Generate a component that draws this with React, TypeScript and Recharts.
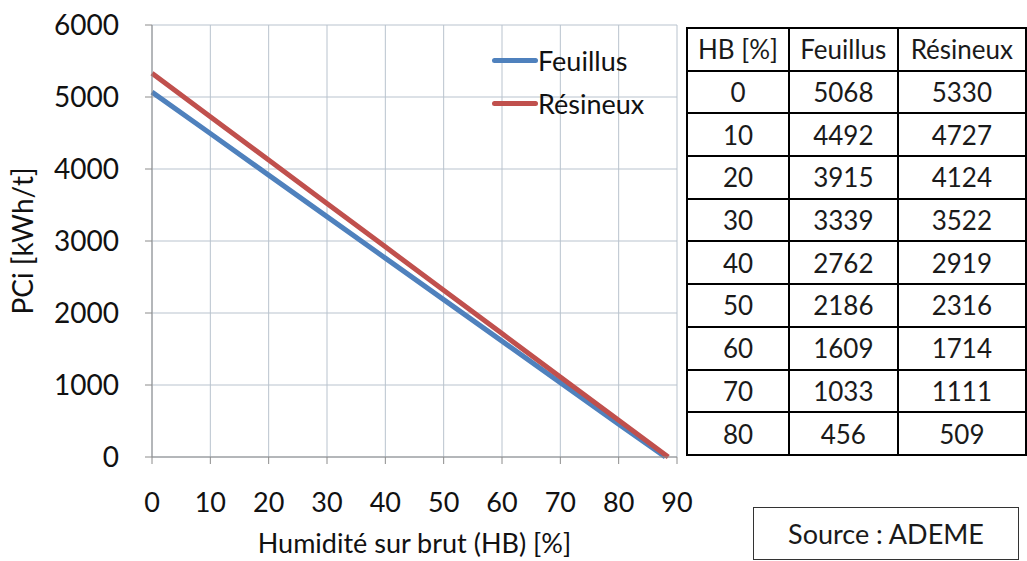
import React from "react";
import { CartesianGrid, Line, LineChart, XAxis, YAxis } from "recharts";

// values from the ADEME table
const hb = [0, 10, 20, 30, 40, 50, 60, 70, 80];
const feuillus = [5068, 4492, 3915, 3339, 2762, 2186, 1609, 1033, 456];
const resineux = [5330, 4727, 4124, 3522, 2919, 2316, 1714, 1111, 509];
// where each curve reaches zero
const feuillusEnd = { hb: 88, v: 0 };
const resineuxEnd = { hb: 88.5, v: 0 };

const xTicks = [0, 10, 20, 30, 40, 50, 60, 70, 80, 90];
const yTicks = [0, 1000, 2000, 3000, 4000, 5000, 6000];

const BLUE = "#4F81BD";
const RED = "#C0504D";
const FONT = "Lato, 'Open Sans', sans-serif";

const feuillusData = [...hb.map((h, i) => ({ hb: h, v: feuillus[i] })), feuillusEnd];
const resineuxData = [...hb.map((h, i) => ({ hb: h, v: resineux[i] })), resineuxEnd];

const series = [
  { name: "Feuillus", color: BLUE, data: feuillusData },
  { name: "Résineux", color: RED, data: resineuxData },
];

function LegendBox() {
  return (
    <div
      style={{
        position: "absolute",
        left: 492,
        top: 39,
        fontFamily: FONT,
        fontSize: 27,
        color: "#111",
      }}
    >
      {series.map((s) => (
        <div key={s.name} style={{ display: "flex", alignItems: "center", height: 43 }}>
          <span
            style={{
              display: "inline-block",
              width: 46,
              height: 5,
              borderRadius: 3,
              background: s.color,
            }}
          />
          <span>{s.name}</span>
        </div>
      ))}
    </div>
  );
}

function YLabel(props: any) {
  const vb = props.viewBox || {};
  const cx = 22;
  const cy = vb.y + vb.height / 2;
  return (
    <text
      x={cx}
      y={cy}
      transform={`rotate(-90 ${cx} ${cy})`}
      textAnchor="middle"
      dominantBaseline="central"
      fontSize={28}
      fill="#111"
    >
      PCi [kWh/t]
    </text>
  );
}

const cell: React.CSSProperties = {
  border: "2px solid #000",
  padding: 0,
  height: 40.7,
  textAlign: "center",
  verticalAlign: "middle",
  whiteSpace: "nowrap",
};

export default function App() {
  return (
    <div
      style={{
        position: "absolute",
        left: 0,
        top: 0,
        width: 1027,
        height: 561,
        overflow: "hidden",
        background: "#fff",
        fontFamily: FONT,
      }}
    >
      <LineChart
        width={1027}
        height={561}
        margin={{ top: 25, right: 350, bottom: 0, left: 0 }}
      >
        <CartesianGrid stroke="#B9C3CE" strokeWidth={1} />
        <XAxis
          type="number"
          dataKey="hb"
          domain={[0, 90]}
          ticks={xTicks}
          height={104}
          stroke="#8C8C8C"
          tickSize={7}
          tickMargin={29}
          tick={{ fill: "#111", fontSize: 27 }}
          label={{
            value: "Humidité sur brut (HB) [%]",
            position: "insideBottom",
            offset: 8,
            fontSize: 27,
            fill: "#111",
          }}
        />
        <YAxis
          type="number"
          domain={[0, 6000]}
          ticks={yTicks}
          width={152}
          stroke="#8C8C8C"
          tickSize={7}
          tickMargin={26}
          tick={{ fill: "#111", fontSize: 28 }}
          label={<YLabel />}
        />
        {series.map((s) => (
          <Line
            key={s.name}
            data={s.data}
            dataKey="v"
            name={s.name}
            stroke={s.color}
            strokeWidth={5}
            dot={false}
            isAnimationActive={false}
          />
        ))}
      </LineChart>

      <LegendBox />

      <table
        style={{
          position: "absolute",
          left: 686,
          top: 27,
          borderCollapse: "collapse",
          fontFamily: FONT,
          fontSize: 26,
          color: "#1a1a1a",
          tableLayout: "fixed",
        }}
      >
        <colgroup>
          <col style={{ width: 105 }} />
          <col style={{ width: 112 }} />
          <col style={{ width: 132 }} />
        </colgroup>
        <thead>
          <tr>
            <td style={cell}>HB [%]</td>
            <td style={cell}>Feuillus</td>
            <td style={cell}>Résineux</td>
          </tr>
        </thead>
        <tbody>
          {hb.map((h, i) => (
            <tr key={h}>
              <td style={cell}>{h}</td>
              <td style={cell}>{feuillus[i]}</td>
              <td style={cell}>{resineux[i]}</td>
            </tr>
          ))}
        </tbody>
      </table>

      <div
        style={{
          position: "absolute",
          left: 753,
          top: 507,
          width: 264,
          height: 51,
          border: "1.5px solid #333",
          display: "flex",
          alignItems: "center",
          justifyContent: "center",
          fontFamily: FONT,
          fontSize: 27,
          color: "#1a1a1a",
        }}
      >
        Source : ADEME
      </div>
    </div>
  );
}
